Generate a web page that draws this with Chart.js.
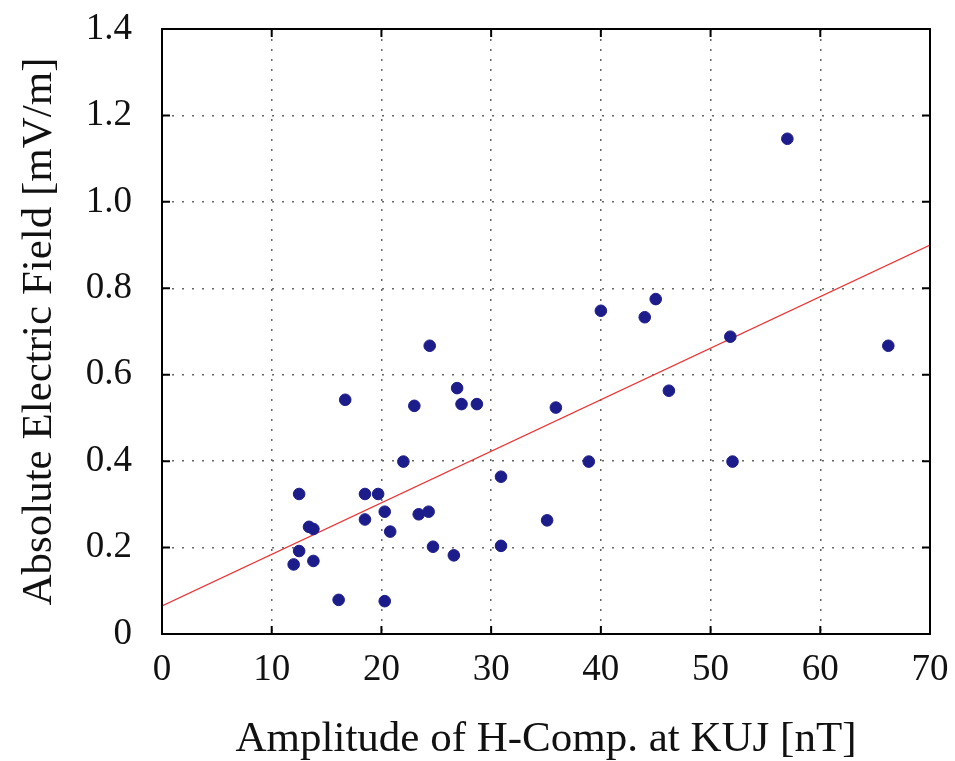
<!DOCTYPE html>
<html lang="en">

<head>
    <meta charset="UTF-8">
    <script src="https://cdn.jsdelivr.net/npm/chart.js@4.4.0/dist/chart.umd.min.js"></script>
    <title>E-field vs H-comp</title>
    <style>
        body { margin: 0; background: #fff; }
        #box { width: 955px; height: 761px; }
    </style>
</head>

<body>
    <div id="box"><canvas id="canvas_grafico" width="955" height="761"></canvas></div>

<script>
    // amplitude of H at KUJ [nT]
    var ampH = [12.0, 12.5, 12.5, 13.4, 13.8, 13.8, 16.1, 16.7, 18.5, 18.5, 19.7, 20.3, 20.3, 20.8, 22.0,
        23.0, 23.4, 24.3, 24.4, 24.7, 26.6, 26.9, 27.3, 28.7, 30.9, 30.9, 35.1, 35.9, 38.9, 40.0,
        44.0, 45.0, 46.2, 51.8, 52.0, 57.0, 66.2];
    // absolute electric field [mV/m]
    var campoE = [0.161, 0.324, 0.192, 0.248, 0.243, 0.169, 0.079, 0.542, 0.265, 0.324, 0.324, 0.283, 0.076, 0.237, 0.399,
        0.528, 0.277, 0.283, 0.667, 0.202, 0.182, 0.569, 0.532, 0.532, 0.364, 0.204, 0.263, 0.524, 0.399, 0.748,
        0.733, 0.775, 0.563, 0.688, 0.399, 1.146, 0.667];

    // fitted line, ends only
    var retaX = [0, 70];
    var retaY = [0.065, 0.90];

    var xTicks = ['0', '10', '20', '30', '40', '50', '60', '70'];
    var yTicks = ['0', '0.2', '0.4', '0.6', '0.8', '1.0', '1.2', '1.4'];

    var pontos = ampH.map(function (v, i) { return { x: v, y: campoE[i] }; });
    var reta = retaX.map(function (v, i) { return { x: v, y: retaY[i] }; });

    var fonte = 'Liberation Serif';

    // frame + inward ticks on all four sides
    const moldura = {
        id: 'moldura',
        afterDraw(chart) {
            const ctx = chart.ctx;
            const a = chart.chartArea;
            const sx = chart.scales.x, sy = chart.scales.y;
            ctx.save();
            ctx.strokeStyle = '#000';
            ctx.lineWidth = 2;
            ctx.strokeRect(a.left, a.top, a.right - a.left, a.bottom - a.top);
            ctx.beginPath();
            sx.ticks.forEach(function (t) {
                var px = sx.getPixelForValue(t.value);
                ctx.moveTo(px, a.bottom); ctx.lineTo(px, a.bottom - 8);
                ctx.moveTo(px, a.top); ctx.lineTo(px, a.top + 8);
            });
            sy.ticks.forEach(function (t) {
                var py = sy.getPixelForValue(t.value);
                ctx.moveTo(a.left, py); ctx.lineTo(a.left + 8, py);
                ctx.moveTo(a.right, py); ctx.lineTo(a.right - 8, py);
            });
            ctx.stroke();
            ctx.restore();
        }
    };

    function semSobra(s) {
        s.paddingTop = 0; s.paddingBottom = 0; s.paddingLeft = 0; s.paddingRight = 0;
    }

    const ctx = document.getElementById('canvas_grafico').getContext('2d');
    const myChart = new Chart(ctx, {
        type: 'scatter',
        data: {
            datasets: [{
                label: 'dados',
                data: pontos,
                backgroundColor: '#1c1c8a',
                borderColor: '#1c1c8a',
                pointRadius: 5.8,
                pointHoverRadius: 5.8
            }, {
                type: 'line',
                label: 'ajuste',
                data: reta,
                borderColor: '#ee3333',
                borderWidth: 1.2,
                pointRadius: 0,
                fill: false
            }]
        },
        options: {
            responsive: false,
            animation: false,
            layout: { padding: { top: 29, right: 25, left: 0, bottom: 0 } },
            plugins: {
                legend: { display: false },
                tooltip: { enabled: false }
            },
            scales: {
                x: {
                    type: 'linear',
                    min: 0,
                    max: 70,
                    afterFit: function (s) { s.height = 127; semSobra(s); },
                    ticks: {
                        stepSize: 10,
                        padding: 14,
                        color: '#111',
                        font: { family: fonte, size: 37 },
                        callback: function (v) { return xTicks[Math.round(v / 10)]; }
                    },
                    grid: { color: '#666', lineWidth: 1.5, drawTicks: false },
                    border: { display: false, dash: [2, 8] },
                    title: {
                        display: true,
                        text: 'Amplitude of H-Comp. at KUJ [nT]',
                        color: '#111',
                        font: { family: fonte, size: 43, lineHeight: 1.0 },
                        padding: { top: 12, bottom: 0 }
                    }
                },
                y: {
                    type: 'linear',
                    min: 0,
                    max: 1.4,
                    afterFit: function (s) { s.width = 162; semSobra(s); },
                    ticks: {
                        stepSize: 0.2,
                        padding: 30,
                        color: '#111',
                        font: { family: fonte, size: 37 },
                        callback: function (v) { return yTicks[Math.round(v / 0.2)]; }
                    },
                    grid: { color: '#666', lineWidth: 1.5, drawTicks: false },
                    border: { display: false, dash: [2, 8] },
                    title: {
                        display: true,
                        text: 'Absolute Electric Field [mV/m]',
                        color: '#111',
                        font: { family: fonte, size: 43 },
                        padding: { top: 14, bottom: 0 }
                    }
                }
            }
        },
        plugins: [moldura]
    });
</script>
</body>

</html>
